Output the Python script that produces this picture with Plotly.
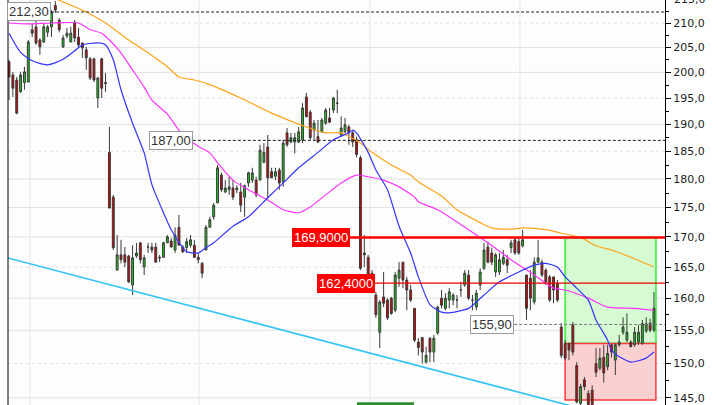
import math
import plotly.graph_objects as go

# ---------------- data ----------------
opens = [202.1, 199.5, 198.5, 196.2, 198.0, 198.1, 208.6, 209.2, 206.5, 206.1,
         208.1, 209.2, 213.7, 210.6, 205.1, 207.3, 206.1, 210.2, 207.1, 205.9,
         204.5, 202.7, 202.7, 195.0, 202.7, 198.0, 184.8, 176.8, 164.5, 167.0,
         167.0, 166.8, 162.1, 166.8, 169.0, 165.0, 168.3, 168.3, 168.3, 166.6,
         166.6, 169.0, 169.3, 167.8, 171.6, 168.3, 168.2, 168.6, 168.6, 166.6,
         165.6, 167.8, 171.6, 173.4, 175.8, 180.7, 177.7, 178.1, 178.4, 178.1,
         177.7, 176.8, 179.3, 179.8, 179.8, 179.8, 183.0, 185.8, 181.3, 180.5,
         181.6, 179.5, 188.4, 186.7, 186.7, 186.7, 187.1, 195.2, 192.3, 188.9,
         187.7, 188.6, 190.2, 191.2, 192.7, 194.0, 188.0, 188.6, 189.5, 188.4,
         187.1, 183.8, 167.3, 166.6, 164.0, 160.5, 154.7, 160.2, 159.7, 160.0,
         158.1, 163.2, 165.8, 162.9, 161.3, 158.4, 153.2, 153.9, 150.2, 153.8,
         151.7, 154.6, 160.0, 158.4, 159.7, 159.7, 159.7, 161.3, 162.1, 163.7,
         159.7, 158.6, 162.1, 164.8, 168.3, 167.3, 164.2, 164.2, 165.6, 166.2,
         168.2, 169.5, 169.2, 168.5, 163.7, 163.2, 159.4, 165.8, 165.8, 164.5,
         163.4, 163.4, 162.4, 155.5, 153.0, 153.0, 155.8, 149.7, 144.2, 147.6,
         145.6, 146.1, 150.0, 149.3, 150.9, 149.5, 152.8, 150.5, 152.8, 154.7,
         153.5, 153.2, 152.8, 153.2, 153.0, 154.9, 156.1, 155.0]
highs = [202.5, 200.1, 199.1, 200.1, 201.1, 206.5, 210.0, 210.6, 206.9, 210.0,
         209.6, 212.7, 214.6, 211.0, 207.5, 209.0, 209.2, 210.6, 209.0, 205.9,
         205.1, 203.1, 202.9, 199.1, 202.9, 199.9, 189.5, 177.2, 170.3, 169.5,
         168.3, 167.0, 168.6, 169.0, 169.0, 167.0, 169.0, 169.0, 169.0, 167.0,
         169.2, 170.3, 169.8, 171.6, 173.7, 168.6, 169.8, 170.3, 169.5, 167.3,
         165.8, 172.0, 173.4, 175.8, 182.5, 181.1, 179.8, 180.4, 179.8, 178.9,
         179.3, 179.0, 181.3, 182.0, 180.4, 186.2, 186.5, 188.0, 182.0, 182.0,
         182.0, 187.1, 189.3, 188.4, 188.4, 189.5, 194.0, 196.0, 192.7, 190.8,
         190.8, 191.2, 193.1, 193.1, 195.2, 196.6, 191.5, 191.2, 189.9, 188.9,
         187.7, 184.2, 170.3, 167.0, 164.5, 161.0, 159.7, 164.2, 160.0, 160.2,
         164.2, 165.8, 165.8, 163.4, 162.1, 158.4, 153.8, 153.9, 152.5, 153.9,
         154.3, 158.8, 161.3, 160.8, 161.6, 160.8, 160.5, 162.6, 164.5, 164.5,
         160.5, 161.3, 164.8, 169.0, 169.2, 168.2, 167.3, 167.3, 167.8, 167.0,
         169.5, 169.8, 169.8, 171.2, 163.7, 164.5, 166.6, 169.5, 166.2, 164.8,
         163.7, 163.4, 162.9, 156.1, 153.5, 153.0, 156.3, 150.2, 147.0, 148.0,
         146.1, 146.8, 152.3, 152.3, 152.8, 152.8, 152.8, 153.0, 154.3, 157.0,
         157.6, 153.5, 155.5, 155.8, 156.6, 157.0, 156.8, 161.0]
lows = [194.6, 195.2, 191.9, 196.0, 196.6, 198.1, 207.1, 205.5, 203.5, 205.9,
        207.1, 207.1, 212.1, 208.1, 204.9, 206.9, 206.1, 206.1, 205.1, 202.9,
        200.5, 198.5, 198.1, 193.1, 195.0, 196.2, 174.9, 167.8, 164.5, 165.6,
        165.0, 162.4, 160.5, 166.5, 165.6, 163.7, 167.3, 167.3, 165.8, 165.8,
        166.5, 169.0, 168.2, 167.3, 168.6, 167.3, 167.3, 168.2, 166.5, 165.6,
        163.2, 167.8, 171.6, 172.9, 175.8, 177.7, 177.5, 177.2, 176.3, 177.5,
        174.2, 173.4, 178.6, 179.3, 176.8, 179.8, 182.8, 176.6, 180.2, 179.8,
        178.1, 178.6, 185.8, 186.5, 184.6, 186.5, 186.5, 191.4, 187.1, 187.1,
        186.5, 188.4, 189.9, 190.2, 192.1, 192.1, 187.7, 188.4, 186.2, 185.8,
        183.9, 164.5, 165.0, 162.4, 160.8, 156.9, 152.3, 158.6, 156.6, 157.4,
        157.8, 161.8, 161.6, 158.1, 159.4, 153.2, 151.2, 150.0, 150.0, 150.2,
        150.2, 154.3, 158.4, 158.1, 158.4, 158.9, 158.4, 160.2, 161.8, 159.7,
        158.1, 158.1, 161.3, 164.5, 165.6, 165.3, 163.4, 163.7, 165.3, 164.0,
        167.3, 167.0, 167.0, 168.2, 156.6, 158.1, 159.0, 165.6, 163.4, 162.1,
        159.4, 159.2, 159.4, 150.8, 150.5, 150.5, 151.2, 144.2, 143.5, 146.1,
        143.5, 143.5, 148.0, 149.0, 147.2, 149.0, 150.9, 148.3, 152.5, 154.3,
        153.2, 152.5, 152.5, 152.8, 152.8, 154.6, 154.7, 154.7]
closes = [199.1, 196.9, 192.1, 199.5, 200.1, 206.1, 207.9, 205.9, 205.1, 209.2,
          209.2, 212.3, 212.7, 208.6, 206.9, 207.9, 207.9, 206.9, 205.5, 204.9,
          202.9, 198.9, 198.5, 198.9, 196.9, 197.8, 174.9, 168.2, 167.0, 166.2,
          165.8, 162.6, 166.5, 167.3, 166.2, 166.5, 168.3, 167.8, 165.8, 166.5,
          169.0, 170.0, 168.3, 170.3, 168.6, 167.5, 169.2, 169.5, 166.6, 166.2,
          164.0, 171.6, 172.9, 175.4, 182.0, 178.1, 178.4, 178.6, 176.8, 178.4,
          175.4, 178.8, 181.1, 181.1, 177.2, 185.2, 184.8, 180.2, 180.2, 181.3,
          179.3, 186.5, 186.2, 187.5, 187.5, 188.6, 193.1, 191.4, 187.5, 190.2,
          186.7, 190.8, 192.7, 190.4, 195.0, 194.0, 189.3, 189.9, 188.4, 186.7,
          184.4, 164.8, 167.0, 162.9, 162.4, 157.4, 159.4, 159.2, 156.9, 157.6,
          163.7, 164.5, 162.9, 161.3, 159.7, 153.5, 152.4, 151.7, 151.2, 151.7,
          153.8, 158.6, 158.9, 160.0, 161.0, 160.5, 159.7, 161.3, 164.0, 160.0,
          159.7, 160.8, 164.2, 167.8, 165.8, 165.8, 167.0, 166.2, 166.6, 165.3,
          169.0, 167.3, 167.3, 169.5, 158.4, 160.0, 165.8, 166.5, 163.7, 162.6,
          159.7, 161.3, 159.7, 151.2, 150.8, 152.0, 151.7, 144.4, 146.6, 146.6,
          143.8, 143.8, 148.7, 150.8, 148.6, 151.5, 151.7, 152.8, 153.2, 155.5,
          154.7, 152.5, 154.7, 154.7, 156.0, 156.0, 155.0, 158.4]

# moving averages, read at selected candle indices
blue_idx = [0, 3, 6, 10, 14, 17, 19, 23, 25, 27, 29, 32, 35, 37, 40, 42, 45, 46, 49, 51,
            53, 58, 62, 67, 71, 75, 80, 84, 88, 89, 90, 93, 95, 98, 101, 104, 106, 109, 112, 114,
            119, 123, 127, 132, 136, 139, 142, 144, 147, 150, 152, 155, 156, 158, 161, 163, 165, 167]
blue_val = [207.9, 204.0, 202.3, 201.5, 202.6, 204.3, 205.5, 205.9, 205.5, 202.5,
            196.6, 190.2, 184.7, 179.0, 174.1, 171.2, 168.2, 167.5, 167.3, 168.2,
            169.0, 171.8, 173.4, 176.7, 179.3, 182.0, 184.8, 187.1, 188.4, 188.9,
            188.4, 184.8, 181.6, 178.1, 171.8, 167.3, 163.4, 159.0, 157.8, 157.7,
            158.4, 160.5, 162.6, 164.2, 165.3, 165.6, 165.0, 163.4, 161.6, 159.7,
            156.6, 153.5, 152.0, 151.0, 150.2, 150.4, 150.8, 151.7]
mag_idx = [0, 5, 11, 18, 21, 24, 26, 29, 32, 35, 37, 41, 44, 46, 49, 52, 54, 58, 62, 67,
           71, 75, 78, 82, 86, 90, 93, 97, 101, 105, 106, 111, 119, 124, 130, 136, 141, 144, 150, 155,
           162, 167]
mag_val = [210.0, 209.8, 210.0, 210.0, 208.6, 207.9, 206.5, 203.9, 200.5, 197.1,
           194.6, 191.9, 188.9, 187.5, 185.9, 184.7, 182.9, 179.8, 178.1, 176.3,
           174.6, 174.1, 175.1, 177.2, 179.3, 180.7, 180.4, 179.8, 178.6, 176.8,
           176.0, 174.6, 171.2, 169.0, 166.2, 163.7, 161.6, 161.3, 160.0, 158.6,
           158.4, 158.1]
org_idx = [11, 13, 20, 25, 31, 36, 41, 44, 48, 52, 60, 68, 77, 82, 86, 91, 94, 99, 104, 106,
           112, 116, 122, 125, 130, 133, 139, 143, 148, 152, 156, 161, 167]
org_val = [215.7, 214.8, 212.3, 210.0, 206.5, 203.9, 201.1, 199.1, 198.5, 197.6,
           195.0, 192.1, 189.5, 188.4, 188.4, 186.5, 184.8, 182.5, 180.7, 179.5,
           177.0, 174.6, 172.4, 171.5, 171.3, 171.5, 171.2, 170.6, 169.9, 168.5,
           167.8, 166.6, 165.0]

# trend line (two anchor points)
trend_idx = [-1, 150]
trend_val = [166.6, 143.2]

# horizontal levels
level_vals = [212.30, 187.00, 169.90, 162.40, 155.90]
level_start = [10.9, 47.6, 88.3, 94.8, 130.8]
level_text = ["212,30", "187,00", "169,9000", "162,4000", "155,90"]

# zones
zone_x = [144.0, 167.5]
green_zone = [153.0, 169.9]
red_zone = [144.7, 153.0]

# axis ticks
y_ticks = [145, 150, 155, 160, 165, 170, 175, 180, 185, 190, 195, 200, 205, 210]
y_ticktext = ["145,0", "150,0", "155,0", "160,0", "165,0", "170,0", "175,0", "180,0",
              "185,0", "190,0", "195,0", "200,0", "205,0", "210,0"]
y_minor = [147.5, 152.5, 157.5, 162.5, 167.5, 172.5, 177.5, 182.5, 187.5, 192.5,
           197.5, 202.5, 207.5, 212.5]
top_tick = 215
top_tick_text = "215,0"
dotted_grid = [150, 165, 185, 195, 210]
v_grid = [5.4, 49.2, 93.5, 132.3]
date_tag = [90.1, 104.9]

x_range = [-0.26, 169.86]
y_range = [143.97, 214.83]

# ---------------- figure ----------------
n = len(opens)
idx = list(range(n))
fig = go.Figure()

fig.add_trace(go.Candlestick(
    x=idx, open=opens, high=highs, low=lows, close=closes,
    increasing=dict(line=dict(color="#3a3a3a", width=1), fillcolor="#1cc41c"),
    decreasing=dict(line=dict(color="#3a3a3a", width=1), fillcolor="#cc0000"),
    whiskerwidth=0, hoverinfo="skip", showlegend=False))

for xs, ys, col in [(org_idx, org_val, "#ffa31a"), (mag_idx, mag_val, "#ff33ff"),
                    (blue_idx, blue_val, "#3535ff")]:
    fig.add_trace(go.Scatter(x=xs, y=ys, mode="lines",
                             line=dict(color=col, width=1.2, shape="spline", smoothing=0.6),
                             hoverinfo="skip", showlegend=False))

fig.add_trace(go.Scatter(x=trend_idx, y=trend_val, mode="lines",
                         line=dict(color="#33c3f5", width=1.6), hoverinfo="skip", showlegend=False))

level_styles = [dict(color="#222222", width=1, dash="3px,2px"),
                dict(color="#222222", width=1, dash="3px,2px"),
                dict(color="#ff0000", width=2.6),
                dict(color="#ee0000", width=1.2),
                dict(color="#777777", width=1, dash="3px,2px")]
for v, s, st in zip(level_vals, level_start, level_styles):
    fig.add_trace(go.Scatter(x=[s, x_range[1] + 2], y=[v, v], mode="lines", line=st,
                             hoverinfo="skip", showlegend=False))

shapes = []
for g in y_ticks:
    shapes.append(dict(type="line", xref="paper", x0=0, x1=1, yref="y", y0=g, y1=g,
                       line=dict(color="#e2e2e2", width=1,
                                 dash="dot" if g in dotted_grid else "solid"),
                       layer="below"))
for vx in v_grid:
    shapes.append(dict(type="line", xref="x", x0=vx, x1=vx, yref="paper", y0=0, y1=1,
                       line=dict(color="#e6e6e6", width=1), layer="below"))
shapes.append(dict(type="rect", xref="x", x0=zone_x[0], x1=zone_x[1], yref="y",
                   y0=green_zone[0], y1=green_zone[1], fillcolor="#d6fbd2",
                   line=dict(color="#5cf05c", width=2), layer="below"))
shapes.append(dict(type="rect", xref="x", x0=zone_x[0], x1=zone_x[1], yref="y",
                   y0=red_zone[0], y1=red_zone[1], fillcolor="#fbd0d0",
                   line=dict(color="#ff3a3a", width=1.5), layer="below"))
shapes.append(dict(type="rect", xref="x", x0=date_tag[0], x1=date_tag[1], yref="paper",
                   y0=0, y1=0.007, fillcolor="#2e8b2e", line=dict(width=0)))
shapes.append(dict(type="line", xref="paper", x0=0, x1=0, yref="paper", y0=0, y1=1,
                   line=dict(color="#000000", width=1)))

annotations = []
label_styles = [("white", "#999999", "#333333"), ("white", "#999999", "#333333"),
                ("#ff0000", "#ff0000", "white"), ("#ff0000", "#ff0000", "white"),
                ("white", "#999999", "#333333")]
for v, s, t, (bg, bc, fc) in zip(level_vals, level_start, level_text, label_styles):
    annotations.append(dict(x=s, y=math.log10(v), xref="x", yref="y", text=t,
                            showarrow=False, xanchor="right", yanchor="middle",
                            bgcolor=bg, bordercolor=bc, borderwidth=1, borderpad=1,
                            font=dict(family="Liberation Sans, Arial", size=13, color=fc)))

# partially visible top tick label (above the axis range)
lo, hi = math.log10(y_range[0]), math.log10(y_range[1])
top_paper = (math.log10(top_tick) - lo) / (hi - lo)
annotations.append(dict(x=1, xref="paper", xanchor="left", xshift=7, y=top_paper,
                        yref="paper", yanchor="middle", text=top_tick_text, showarrow=False,
                        font=dict(family="DejaVu Sans", size=11, color="#222222")))

fig.update_layout(
    width=720, height=405,
    margin=dict(l=8, r=55, t=0, b=0, pad=0, autoexpand=False),
    paper_bgcolor="white", plot_bgcolor="#fcfdfc",
    showlegend=False,
    shapes=shapes, annotations=annotations,
    xaxis=dict(range=x_range, showgrid=False, zeroline=False, showticklabels=False,
               ticks="", rangeslider=dict(visible=False), fixedrange=True, automargin=False),
    yaxis=dict(type="log", range=[lo, hi],
               side="right", tickvals=y_ticks, ticktext=y_ticktext, showgrid=False,
               zeroline=False, ticks="outside", ticklen=5, tickcolor="#000000",
               showline=True, linecolor="#000000", linewidth=1, automargin=False,
               tickfont=dict(family="DejaVu Sans", size=11, color="#222222"),
               minor=dict(tickvals=y_minor, ticks="outside", ticklen=3,
                          tickcolor="#000000", showgrid=False)),
)

fig.write_html("out.html", config={"staticPlot": True},
               post_script="document.body.style.margin='0';document.body.style.padding='0';")
